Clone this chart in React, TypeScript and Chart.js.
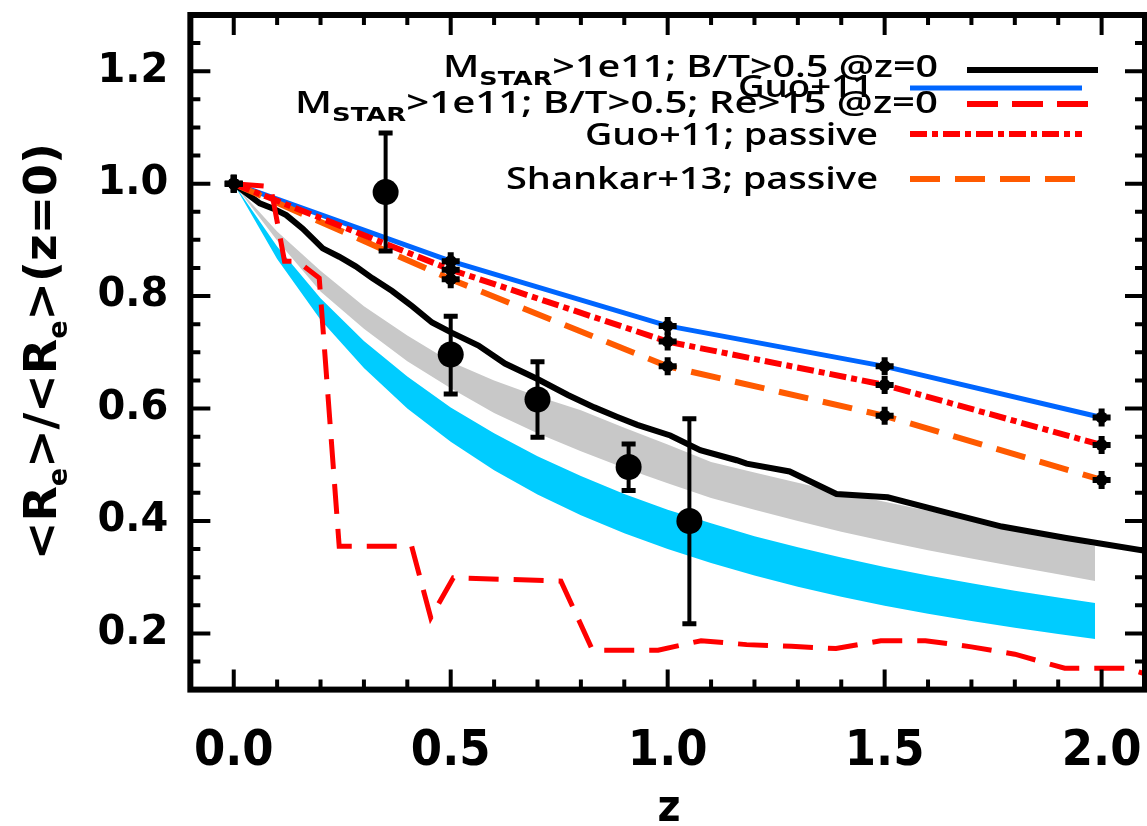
import React, { useEffect, useRef } from 'react';
import { Chart, registerables } from 'chart.js';

Chart.register(...registerables);

// ---------- data ----------
const bandZ = [0, 0.1, 0.2, 0.3, 0.4, 0.5, 0.6, 0.7, 0.8, 0.9, 1.0, 1.1, 1.2, 1.3, 1.4, 1.5, 1.6, 1.7, 1.8, 1.9, 1.985];
const greyTop = [1.0, 0.915, 0.845, 0.782, 0.73, 0.683, 0.65, 0.622, 0.597, 0.566, 0.536, 0.505, 0.486, 0.468, 0.45, 0.434, 0.418, 0.402, 0.386, 0.37, 0.355];
const greyBottom = [1.0, 0.899, 0.808, 0.742, 0.684, 0.636, 0.592, 0.556, 0.524, 0.494, 0.467, 0.441, 0.42, 0.4, 0.381, 0.364, 0.348, 0.333, 0.319, 0.305, 0.293];
const cyanTop = [1.0, 0.888, 0.796, 0.72, 0.657, 0.602, 0.556, 0.515, 0.48, 0.448, 0.42, 0.396, 0.373, 0.353, 0.335, 0.318, 0.303, 0.289, 0.276, 0.264, 0.254];
const cyanBottom = [1.0, 0.866, 0.758, 0.672, 0.6, 0.541, 0.49, 0.447, 0.41, 0.378, 0.35, 0.325, 0.303, 0.283, 0.265, 0.249, 0.235, 0.222, 0.21, 0.199, 0.19];

const litZ = [0, 0.5, 1.0, 1.5, 2.0];
const guoAll = [1.0, 0.862, 0.747, 0.675, 0.584];
const guoPassive = [1.0, 0.847, 0.719, 0.642, 0.535];
const shankarPassive = [1.0, 0.83, 0.675, 0.587, 0.473];

const modelZ = [0, 0.06, 0.09, 0.121, 0.159, 0.205, 0.243, 0.281, 0.319, 0.365, 0.411, 0.457, 0.502, 0.564, 0.625, 0.701, 0.77, 0.831, 0.884, 0.93, 1.006, 1.075, 1.159, 1.182, 1.281, 1.389, 1.507, 1.648, 1.77, 1.915, 2.1];
const modelV = [1.0, 0.965, 0.956, 0.944, 0.92, 0.885, 0.87, 0.853, 0.832, 0.809, 0.782, 0.753, 0.735, 0.712, 0.68, 0.652, 0.624, 0.602, 0.585, 0.571, 0.552, 0.526, 0.508, 0.502, 0.488, 0.448, 0.442, 0.414, 0.39, 0.37, 0.347];

const re15Z = [0, 0.085, 0.117, 0.147, 0.197, 0.243, 0.41, 0.454, 0.506, 0.754, 0.827, 0.978, 1.077, 1.182, 1.285, 1.388, 1.491, 1.594, 1.7, 1.8, 1.915, 2.06, 2.1];
const re15V = [1.0, 0.995, 0.862, 0.862, 0.832, 0.355, 0.355, 0.228, 0.299, 0.293, 0.17, 0.17, 0.187, 0.18, 0.177, 0.173, 0.187, 0.187, 0.176, 0.163, 0.138, 0.138, 0.128];

const obsZ = [0.35, 0.5, 0.7, 0.91, 1.05];
const obsV = [0.985, 0.696, 0.616, 0.496, 0.4];
const obsHi = [1.09, 0.764, 0.683, 0.537, 0.582];
const obsLo = [0.88, 0.626, 0.549, 0.454, 0.217];

const xTickValues = [0, 0.5, 1.0, 1.5, 2.0];
const yTickValues = [0.2, 0.4, 0.6, 0.8, 1.0, 1.2];

const legendTexts = [
  [{ t: 'M' }, { t: 'STAR', sub: true }, { t: '>1e11; B/T>0.5 @z=0' }],
  [{ t: 'Guo+11' }],
  [{ t: 'M' }, { t: 'STAR', sub: true }, { t: '>1e11; B/T>0.5; Re>15 @z=0' }],
  [{ t: 'Guo+11; passive' }],
  [{ t: 'Shankar+13; passive' }],
];
const yTitle = [{ t: '<R' }, { t: 'e', sub: true }, { t: '>/<R' }, { t: 'e', sub: true }, { t: '>(z=0)' }];
const xTitle = 'z';

// ---------- styles / layout ----------
const C_BLUE = '#0066ff';
const C_RED = '#ff0000';
const C_ORANGE = '#ff5a00';
const C_GREY = '#c8c8c8';
const C_CYAN = '#00ccff';

const legendLayout = [
  { left: 443, right: 938, base: 77, x1: 967, x2: 1098, y: 70, color: '#000', dash: [], w: 6 },
  { left: 738, right: 873, base: 97, x1: 910, x2: 1082, y: 88, color: C_BLUE, dash: [], w: 5 },
  { left: 295, right: 938, base: 113, x1: 967, x2: 1088, y: 104, color: C_RED, dash: [31, 14], w: 6 },
  { left: 585, right: 878, base: 145, x1: 910, x2: 1082, y: 134, color: C_RED, dash: [17, 5, 6, 5], w: 6 },
  { left: 506, right: 878, base: 189, x1: 910, x2: 1077, y: 179, color: C_ORANGE, dash: [30, 15], w: 6 },
];

const pts = (xs: number[], ys: number[]) => xs.map((x, i) => ({ x, y: ys[i] }));

function drawRich(ctx: CanvasRenderingContext2D, parts: any[], left: number, right: number, base: number, mainFont: string, subFont: string, subDy: number) {
  let w = 0;
  const widths = parts.map((p) => {
    ctx.font = p.sub ? subFont : mainFont;
    const m = ctx.measureText(p.t).width;
    w += m;
    return m;
  });
  const sx = (right - left) / w;
  ctx.save();
  ctx.translate(left, base);
  ctx.scale(sx, 1);
  ctx.textBaseline = 'alphabetic';
  ctx.textAlign = 'left';
  let x = 0;
  parts.forEach((p, i) => {
    ctx.font = p.sub ? subFont : mainFont;
    ctx.fillText(p.t, x, p.sub ? subDy : 0);
    x += widths[i];
  });
  ctx.restore();
}

const decor = {
  id: 'decor',
  afterDatasetsDraw(chart: any) {
    const ctx = chart.ctx as CanvasRenderingContext2D;
    const xs = chart.scales.x;
    const ys = chart.scales.y;
    ctx.save();
    ctx.strokeStyle = '#000';
    obsZ.forEach((z, i) => {
      const px = xs.getPixelForValue(z);
      const t = ys.getPixelForValue(obsHi[i]);
      const b = ys.getPixelForValue(obsLo[i]);
      ctx.lineWidth = 4;
      ctx.beginPath();
      ctx.moveTo(px, t);
      ctx.lineTo(px, b);
      ctx.stroke();
      ctx.lineWidth = 5;
      ctx.beginPath();
      ctx.moveTo(px - 7, t);
      ctx.lineTo(px + 7, t);
      ctx.moveTo(px - 7, b);
      ctx.lineTo(px + 7, b);
      ctx.stroke();
    });
    ctx.restore();
  },
  afterDraw(chart: any) {
    const ctx = chart.ctx as CanvasRenderingContext2D;
    const { left, right, top, bottom } = chart.chartArea;
    const xs = chart.scales.x;
    const ys = chart.scales.y;
    ctx.save();
    ctx.strokeStyle = '#000';
    ctx.lineWidth = 6;
    ctx.strokeRect(left, top, right - left, bottom - top);
    // ticks
    ctx.lineWidth = 4;
    ctx.beginPath();
    for (let k = -1; k <= 21; k++) {
      const v = k / 10;
      const px = xs.getPixelForValue(v);
      const major = k % 5 === 0;
      const len = major ? 20 : 10;
      ctx.moveTo(px, bottom);
      ctx.lineTo(px, bottom - len);
      ctx.moveTo(px, top);
      ctx.lineTo(px, top + len);
    }
    for (let k = 2; k <= 26; k++) {
      const v = k / 20;
      const py = ys.getPixelForValue(v);
      const major = k % 4 === 0;
      const len = major ? 20 : 10;
      ctx.moveTo(left, py);
      ctx.lineTo(left + len, py);
      ctx.moveTo(right, py);
      ctx.lineTo(right - len, py);
    }
    ctx.stroke();

    // legend
    ctx.fillStyle = '#000';
    legendLayout.forEach((L, i) => {
      drawRich(ctx, legendTexts[i], L.left, L.right, L.base, '600 31px "Open Sans", "DejaVu Sans", sans-serif', 'bold 20px "DejaVu Sans"', 8);
      ctx.save();
      ctx.strokeStyle = L.color;
      ctx.lineWidth = L.w;
      ctx.setLineDash(L.dash);
      ctx.lineCap = 'butt';
      ctx.beginPath();
      ctx.moveTo(L.x1, L.y);
      ctx.lineTo(L.x2, L.y);
      ctx.stroke();
      ctx.restore();
    });

    // y title
    ctx.save();
    ctx.translate(56, 0);
    ctx.rotate(-Math.PI / 2);
    drawRich(ctx, yTitle, -560, -143, 0, 'bold 44px "DejaVu Sans"', 'bold 26px "DejaVu Sans"', 11);
    ctx.restore();

    // x title
    ctx.font = 'bold 44px "Liberation Sans Narrow", "DejaVu Sans Condensed", sans-serif';
    ctx.textAlign = 'center';
    ctx.textBaseline = 'alphabetic';
    ctx.fillText(xTitle, 669, 821);
    ctx.restore();
  },
};

const zeroPad = (s: any) => {
  s.paddingTop = 0;
  s.paddingBottom = 0;
  s.paddingLeft = 0;
  s.paddingRight = 0;
};

export default function App() {
  const ref = useRef<HTMLCanvasElement>(null);
  useEffect(() => {
    if (!ref.current) return;
    const lineDs = (label: string, data: any[], color: string, width: number, dash: number[]) => ({
      label,
      data,
      borderColor: color,
      borderWidth: width,
      borderDash: dash,
      pointRadius: 0,
      fill: false,
      tension: 0,
    });
    const markerData = [
      ...pts(litZ, guoAll),
      ...pts(litZ, guoPassive),
      ...pts(litZ, shankarPassive),
    ];
    const chart = new Chart(ref.current, {
      type: 'line',
      data: {
        datasets: [
          {
            label: 'obs',
            data: pts(obsZ, obsV),
            showLine: false,
            pointRadius: 13,
            pointBackgroundColor: '#000',
            pointBorderColor: '#000',
            pointBorderWidth: 0,
          } as any,
          {
            label: 'markers',
            data: markerData,
            showLine: false,
            pointStyle: 'cross',
            pointRadius: 9,
            pointBorderColor: '#000',
            pointBorderWidth: 6,
          },
          {
            label: 'markers2',
            data: markerData,
            showLine: false,
            pointRadius: 6,
            pointBackgroundColor: '#000',
            pointBorderWidth: 0,
          },
          lineDs('re15', pts(re15Z, re15V), C_RED, 5, [30, 15]),
          lineDs('guoPassive', pts(litZ, guoPassive), C_RED, 6, [17, 5, 6, 5]),
          lineDs('shankar', pts(litZ, shankarPassive), C_ORANGE, 6, [30, 15]),
          lineDs('guo', pts(litZ, guoAll), C_BLUE, 5, []),
          lineDs('model', pts(modelZ, modelV), '#000', 6, []),
          {
            label: 'greyTop',
            data: pts(bandZ, greyTop),
            borderWidth: 0,
            borderColor: 'rgba(0,0,0,0)',
            backgroundColor: C_GREY,
            pointRadius: 0,
            fill: '+1',
          },
          {
            label: 'greyBottom',
            data: pts(bandZ, greyBottom),
            borderWidth: 0,
            borderColor: 'rgba(0,0,0,0)',
            pointRadius: 0,
            fill: false,
          },
          {
            label: 'cyanTop',
            data: pts(bandZ, cyanTop),
            borderWidth: 0,
            borderColor: 'rgba(0,0,0,0)',
            backgroundColor: C_CYAN,
            pointRadius: 0,
            fill: '+1',
          },
          {
            label: 'cyanBottom',
            data: pts(bandZ, cyanBottom),
            borderWidth: 0,
            borderColor: 'rgba(0,0,0,0)',
            pointRadius: 0,
            fill: false,
          },
        ],
      },
      options: {
        animation: false,
        responsive: false,
        devicePixelRatio: 1,
        layout: { padding: { left: 0, top: 10.1, right: 9.35, bottom: 0 } },
        plugins: { legend: { display: false }, tooltip: { enabled: false } },
        scales: {
          x: {
            type: 'linear',
            min: -0.1,
            max: 2.1,
            grid: { display: false },
            border: { display: false },
            afterBuildTicks: (s: any) => {
              s.ticks = xTickValues.map((v) => ({ value: v }));
            },
            afterFit: (s: any) => {
              s.height = 136.4;
              zeroPad(s);
            },
            ticks: {
              color: '#000',
              padding: 24,
              maxRotation: 0,
              autoSkip: false,
              font: { family: '"Liberation Sans Narrow", "DejaVu Sans Condensed", sans-serif', size: 50, weight: 'bold', lineHeight: 1.2 },
              callback: (v: any) => Number(v).toFixed(1),
            },
          },
          y: {
            type: 'linear',
            min: 0.1,
            max: 1.3,
            grid: { display: false },
            border: { display: false },
            afterBuildTicks: (s: any) => {
              s.ticks = yTickValues.map((v) => ({ value: v }));
            },
            afterFit: (s: any) => {
              s.width = 190.35;
              zeroPad(s);
            },
            ticks: {
              color: '#000',
              padding: 14,
              autoSkip: false,
              font: { family: '"DejaVu Sans", sans-serif', size: 40, weight: 'bold' },
              callback: (v: any) => Number(v).toFixed(1),
            },
          },
        },
      } as any,
      plugins: [decor],
    });
    return () => chart.destroy();
  }, []);
  return (
    <div style={{ position: 'fixed', left: 0, top: 0, width: 1147, height: 826, overflow: 'hidden', background: '#fff' }}>
      <canvas ref={ref} width={1160} height={826} style={{ width: 1160, height: 826, display: 'block' }} />
    </div>
  );
}
